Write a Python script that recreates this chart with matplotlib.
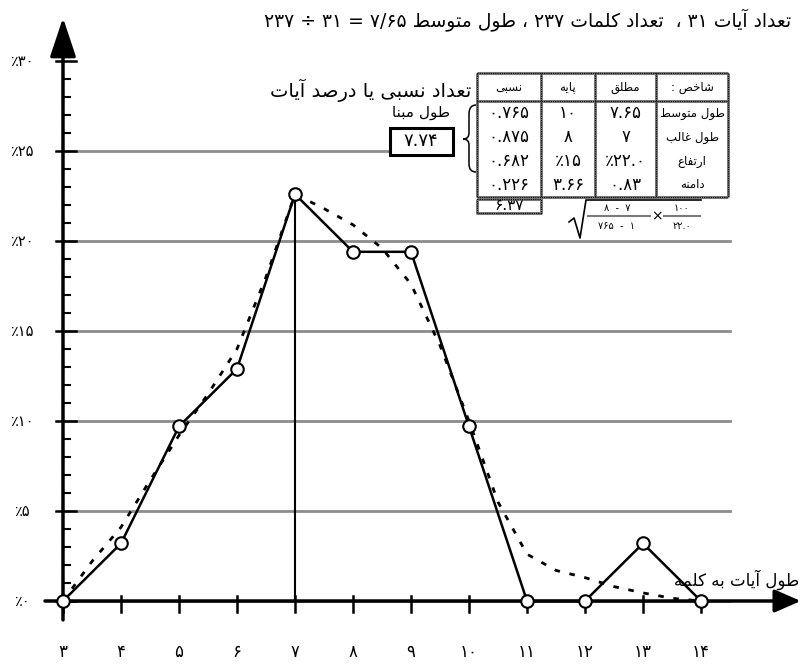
import re

import matplotlib.pyplot as plt
from matplotlib.patches import PathPatch, Rectangle
from matplotlib.path import Path

# data
lengths = [3, 4, 5, 6, 7, 8, 9, 10, 11, 12, 13, 14]
percent = [0.0, 3.2, 9.7, 12.9, 22.6, 19.4, 19.4, 9.7, 0.0, 0.0, 3.2, 0.0]

curve_x = [3.0, 3.5, 4.0, 4.5, 5.0, 5.5, 6.0, 6.5, 7.0, 7.5, 8.0, 8.5, 9.0,
           9.5, 10.0, 10.5, 11.0, 11.5, 12.0, 12.5, 13.0, 13.5, 14.0]
curve_y = [0.0, 2.2, 4.1, 6.7, 9.2, 11.5, 14.0, 18.0, 22.6, 21.8, 20.9, 19.6,
           17.6, 14.2, 10.0, 5.5, 2.6, 1.7, 1.3, 0.8, 0.45, 0.15, 0.0]

x_labels = ["۳", "۴", "۵", "۶", "۷", "۸", "۹", "۱۰", "۱۱", "۱۲", "۱۳", "۱۴"]
y_ticks = [0, 5, 10, 15, 20, 25, 30]
y_labels = ["٪۰", "٪۵", "٪۱۰", "٪۱۵", "٪۲۰", "٪۲۵", "٪۳۰"]

title = "تعداد آیات ۳۱ ،  تعداد کلمات ۲۳۷ ، طول متوسط ۷/۶۵ = ۳۱ ÷ ۲۳۷"
y_title = "تعداد نسبی یا درصد آیات"
x_title = "طول آیات به کلمه"
base_title = "طول مبنا"
base_value = "۷.۷۴"

table_header = ["نسبی", "پایه", "مطلق", "شاخص :"]
row_names = ["طول متوسط", "طول غالب", "ارتفاع", "دامنه"]
col_absolute = ["۷.۶۵", "۷", "٪۲۲.۰", "۰.۸۳"]
col_base = ["۱۰", "۸", "٪۱۵", "۳.۶۶"]
col_relative = ["۰.۷۶۵", "۰.۸۷۵", "۰.۶۸۲", "۰.۲۲۶"]
total_relative = "۶.۳۷"

# contextual forms: isolated, final, initial, medial
FORMS = {
    "ا": ("\ufe8d", "\ufe8e", None, None),
    "آ": ("\ufe81", "\ufe82", None, None),
    "د": ("\ufea9", "\ufeaa", None, None),
    "ر": ("\ufead", "\ufeae", None, None),
    "و": ("\ufeed", "\ufeee", None, None),
    "ب": ("\ufe8f", "\ufe90", "\ufe91", "\ufe92"),
    "پ": ("\ufb56", "\ufb57", "\ufb58", "\ufb59"),
    "ت": ("\ufe95", "\ufe96", "\ufe97", "\ufe98"),
    "خ": ("\ufea5", "\ufea6", "\ufea7", "\ufea8"),
    "س": ("\ufeb1", "\ufeb2", "\ufeb3", "\ufeb4"),
    "ش": ("\ufeb5", "\ufeb6", "\ufeb7", "\ufeb8"),
    "ص": ("\ufeb9", "\ufeba", "\ufebb", "\ufebc"),
    "ط": ("\ufec1", "\ufec2", "\ufec3", "\ufec4"),
    "ع": ("\ufec9", "\ufeca", "\ufecb", "\ufecc"),
    "غ": ("\ufecd", "\ufece", "\ufecf", "\ufed0"),
    "ف": ("\ufed1", "\ufed2", "\ufed3", "\ufed4"),
    "ق": ("\ufed5", "\ufed6", "\ufed7", "\ufed8"),
    "ک": ("\ufb8e", "\ufb8f", "\ufb90", "\ufb91"),
    "ل": ("\ufedd", "\ufede", "\ufedf", "\ufee0"),
    "م": ("\ufee1", "\ufee2", "\ufee3", "\ufee4"),
    "ن": ("\ufee5", "\ufee6", "\ufee7", "\ufee8"),
    "ه": ("\ufee9", "\ufeea", "\ufeeb", "\ufeec"),
    "ی": ("\ufbfc", "\ufbfd", "\ufbfe", "\ufbff"),
}


def fa(text):
    """Shape persian letters and put them in visual (left to right) order."""
    out = []
    for i, c in enumerate(text):
        if c not in FORMS:
            out.append(c)
            continue
        prev = text[i - 1] if i > 0 else ""
        nxt = text[i + 1] if i + 1 < len(text) else ""
        join_prev = prev in FORMS and FORMS[prev][2] is not None
        join_next = nxt in FORMS and FORMS[c][2] is not None
        iso, fin, ini, med = FORMS[c]
        if join_prev and join_next:
            out.append(med)
        elif join_prev:
            out.append(fin)
        elif join_next:
            out.append(ini)
        else:
            out.append(iso)
    visual = "".join(out)[::-1]
    return re.sub(r"[۰-۹][۰-۹./]*", lambda m: m.group(0)[::-1], visual)


W, H = 801, 664
fig = plt.figure(figsize=(W / 100, H / 100), dpi=100)
ax = fig.add_axes([0, 0, 1, 1])
ax.set_xlim(3 - 63 / 58, 3 + (W - 63) / 58)
ax.set_ylim(-(H - 601) / 18, 601 / 18)
ax.axis("off")

FONT = ["DejaVu Sans"]


def px(x, y):
    return x / W, 1 - y / H


def ptext(x, y, s, size, **kw):
    kw.setdefault("ha", "center")
    kw.setdefault("va", "center")
    fig.text(*px(x, y), s, fontsize=size, family=FONT, **kw)


def pline(xs, ys, **kw):
    fx = [x / W for x in xs]
    fy = [1 - y / H for y in ys]
    fig.add_artist(plt.Line2D(fx, fy, transform=fig.transFigure, **kw))


# gridlines
grid_gray = "#8c8c8c"
for yv in [0, 5, 10, 15, 20]:
    ax.plot([3, 14.5], [yv, yv], color=grid_gray, lw=2, zorder=1)
ax.plot([3, 8.6], [25, 25], color=grid_gray, lw=2, zorder=1)

# axes with arrows
ax.annotate("", xy=(15.72, 0), xytext=(2.69, 0), annotation_clip=False,
            arrowprops=dict(arrowstyle="-|>,head_length=0.8,head_width=0.35",
                            lw=2.5, color="black", mutation_scale=20,
                            shrinkA=0, shrinkB=0), zorder=3)
ax.annotate("", xy=(3, 32.4), xytext=(3, -1.05), annotation_clip=False,
            arrowprops=dict(arrowstyle="-|>,head_length=1.2,head_width=0.4",
                            lw=2.5, color="black", mutation_scale=20,
                            shrinkA=0, shrinkB=0), zorder=3)

# ticks
for xv in lengths:
    ax.plot([xv, xv], [0.3, -0.6], color="black", lw=1.8, zorder=3)
for yv in range(0, 31):
    if yv % 5 == 0:
        ax.plot([3 - 0.12, 3 + 0.22], [yv, yv], color="black", lw=1.8, zorder=3)
    else:
        ax.plot([3, 3.12], [yv, yv], color="black", lw=1.5, zorder=3)

for xv, lab in zip(lengths, x_labels):
    xp = 63 + (xv - 3) * 58
    ptext(xp, 652, lab, 12)
for yv, lab in zip(y_ticks, y_labels):
    ptext(22, 601 - yv * 18, lab, 10.5)

# marker line at the mode
ax.plot([7, 7], [0, percent[4]], color="black", lw=1.5, zorder=2)

# fitted curve
ax.plot(curve_x, curve_y, color="black", lw=2, linestyle=(0, (2, 3.5)),
        zorder=4)

# frequency polygon
ax.plot(lengths, percent, color="black", lw=1.8, marker="o", markersize=9,
        markerfacecolor="white", markeredgecolor="black",
        markeredgewidth=1.5, zorder=5, clip_on=False)

# texts
ptext(791, 20, fa(title), 13.5, ha="right")
ptext(471, 90, fa(y_title), 14, ha="right")
ptext(737, 580, fa(x_title), 12)

# base length box
ptext(421, 112, fa(base_title), 11)
fig.add_artist(Rectangle(px(390, 155), 63 / W, 27 / H, transform=fig.transFigure,
                         fill=False, lw=2.2, ec="black"))
ptext(421, 141, base_value, 13)

# curly brace
brace = [(476, 105), (469, 105), (469, 114), (469, 133), (469, 139),
         (463, 139), (469, 139), (469, 145), (469, 164), (469, 172), (476, 172)]
codes = [Path.MOVETO, Path.CURVE3, Path.CURVE3, Path.LINETO, Path.CURVE3,
         Path.CURVE3, Path.CURVE3, Path.CURVE3, Path.LINETO, Path.CURVE3,
         Path.CURVE3]
fig.add_artist(PathPatch(Path([px(x, y) for x, y in brace], codes),
                         transform=fig.transFigure, fill=False, lw=1.1,
                         ec="black"))

# table
col_x = [477, 541, 595, 656, 728]
top, head_bot, bot = 73, 101, 197
row_y = [113, 137, 161, 185]
border = dict(color="#7a7a7a", lw=2.2, solid_capstyle="butt")
dots = dict(color="black", lw=0.8, linestyle=(0, (1, 1)))
for style in (border, dots):
    for xc in col_x:
        pline([xc, xc], [top, bot], **style)
    for yr in (top, head_bot, bot):
        pline([col_x[0], col_x[-1]], [yr, yr], **style)

for i, head in enumerate(table_header):
    cx = (col_x[i] + col_x[i + 1]) / 2
    ptext(cx, 88, fa(head), 8.5)
for j, yr in enumerate(row_y):
    ptext((col_x[0] + col_x[1]) / 2, yr, col_relative[j], 12)
    ptext((col_x[1] + col_x[2]) / 2, yr, col_base[j], 12)
    ptext((col_x[2] + col_x[3]) / 2, yr, col_absolute[j], 12)
    ptext((col_x[3] + col_x[4]) / 2, yr, fa(row_names[j]), 8.5)

# total box under first column
for style in (border, dots):
    pline([477, 541, 541, 477, 477], [199, 199, 213, 213, 199], **style)
ptext(509, 205, total_relative, 11)

# square-root formula
pline([569, 574, 580, 586, 701], [222, 218, 238, 200, 200], color="black", lw=1.2)
pline([588, 650], [216, 216], color="#7a7a7a", lw=1.5)
pline([664, 700], [216, 216], color="#7a7a7a", lw=1.5)
ptext(617, 208, "۸  -  ۷", 7)
ptext(617, 226, "۷۶۵  -  ۱", 7)
ptext(657, 216, "×", 10)
ptext(682, 208, "۱۰۰", 7)
ptext(682, 226, "۲۲.۰", 7)

fig.savefig("out.png", dpi=100)
